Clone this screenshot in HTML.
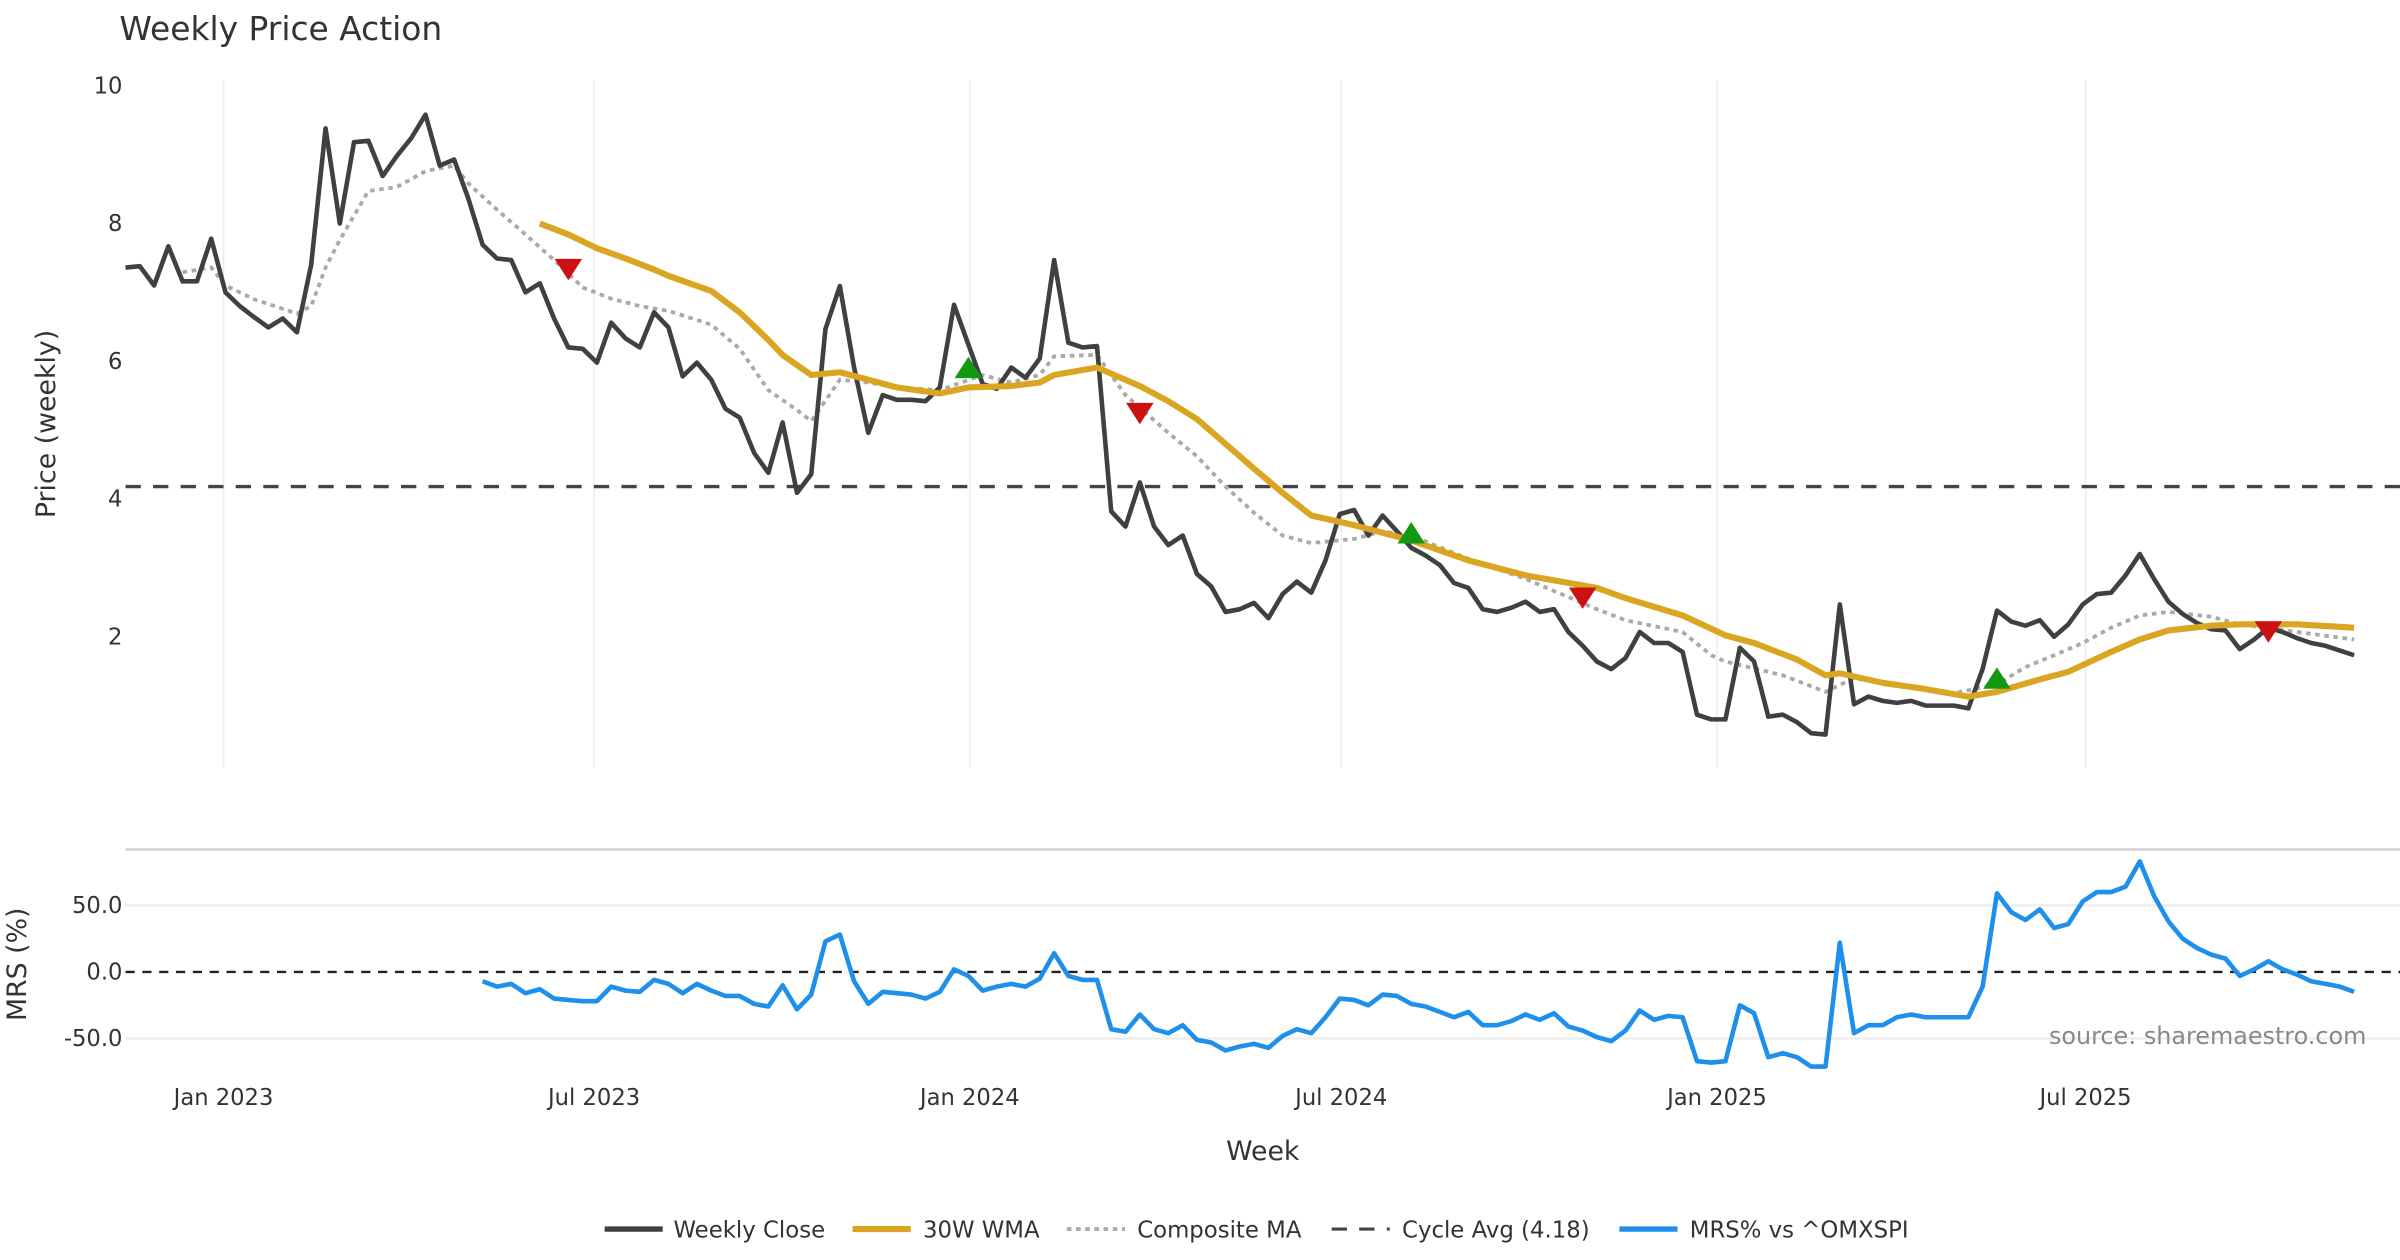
<!DOCTYPE html>
<html><head><meta charset="utf-8"><style>
html,body{margin:0;padding:0;background:#fff;}
svg{display:block;font-family:"DejaVu Sans","Liberation Sans",sans-serif;}
</style></head><body>
<svg id="chart" width="2400" height="1260" viewBox="0 0 1568 823.2" xmlns="http://www.w3.org/2000/svg">
<text x="78" y="26" font-size="21.5" fill="#333">Weekly Price Action</text>
<g id="grid"></g>
<g id="axes"></g>
<g id="series"></g>
<text transform="translate(36,277) rotate(-90)" text-anchor="middle" font-size="17.5" fill="#333">Price (weekly)</text>
<text transform="translate(17,630) rotate(-90)" text-anchor="middle" font-size="17.5" fill="#333">MRS (%)</text>
<text x="825" y="758" text-anchor="middle" font-size="17.5" fill="#333">Week</text>
<text x="1546" y="682" text-anchor="end" font-size="15.6" fill="#888">source: sharemaestro.com</text>
<g font-size="14.9" fill="#333">
 <line x1="395" y1="803" x2="433" y2="803" stroke="#404040" stroke-width="3.5"/><text x="440" y="808.5">Weekly Close</text>
 <line x1="557" y1="803" x2="595" y2="803" stroke="#DAA520" stroke-width="4"/><text x="603" y="808.5">30W WMA</text>
 <line x1="697" y1="803" x2="735" y2="803" stroke="#aaa" stroke-width="2.5" stroke-dasharray="3,3"/><text x="743" y="808.5">Composite MA</text>
 <line x1="870" y1="803" x2="908" y2="803" stroke="#444" stroke-width="2" stroke-dasharray="10,8"/><text x="916" y="808.5">Cycle Avg (4.18)</text>
 <line x1="1058" y1="803" x2="1096" y2="803" stroke="#1E8FEA" stroke-width="3.5"/><text x="1104" y="808.5">MRS% vs ^OMXSPI</text>
</g>
</svg>
<script>
const closeVals=[7.36,7.38,7.1,7.67,7.16,7.16,7.78,7.0,6.8,6.64,6.49,6.62,6.42,7.4,9.38,8.0,9.18,9.2,8.69,8.98,9.24,9.58,8.84,8.93,8.36,7.69,7.49,7.47,7.0,7.13,6.62,6.2,6.18,5.98,6.56,6.33,6.2,6.71,6.49,5.78,5.98,5.73,5.31,5.18,4.67,4.38,5.11,4.09,4.36,6.47,7.09,5.91,4.96,5.51,5.44,5.44,5.42,5.62,6.82,6.24,5.67,5.6,5.91,5.76,6.04,7.47,6.27,6.2,6.22,3.82,3.6,4.24,3.6,3.33,3.47,2.91,2.73,2.36,2.4,2.49,2.27,2.62,2.8,2.64,3.11,3.78,3.84,3.47,3.76,3.53,3.29,3.18,3.04,2.78,2.71,2.4,2.36,2.42,2.51,2.36,2.4,2.07,1.87,1.64,1.53,1.69,2.07,1.91,1.91,1.78,0.87,0.8,0.8,1.84,1.64,0.84,0.87,0.76,0.6,0.58,2.47,1.02,1.13,1.07,1.04,1.07,1.0,1.0,1.0,0.96,1.53,2.38,2.22,2.16,2.24,2.0,2.18,2.47,2.62,2.64,2.89,3.2,2.84,2.51,2.33,2.2,2.11,2.09,1.82,1.96,2.13,2.07,1.98,1.91,1.87,1.8,1.73];
const wmaWeeks=[29,31,33,35,37,38,41,43,45,46,48,49,50,52,54,57,59,62,64,65,68,71,73,75,77,79,81,83,86,88,90,94,98,103,105,109,112,114,117,119,120,123,126,129,131,134,136,139,141,143,146,148,152,156];
const wmaVals=[8.0,7.84,7.64,7.49,7.33,7.24,7.02,6.71,6.31,6.09,5.8,5.82,5.84,5.73,5.62,5.53,5.62,5.64,5.69,5.8,5.91,5.64,5.42,5.16,4.8,4.44,4.09,3.76,3.62,3.51,3.4,3.11,2.89,2.71,2.56,2.31,2.02,1.91,1.67,1.44,1.47,1.33,1.24,1.13,1.2,1.38,1.49,1.78,1.96,2.09,2.16,2.18,2.18,2.13];
const compWeeks=[4,6,7,9,12,13,14,15,17,19,21,23,24,26,28,30,32,34,36,38,41,43,45,47,48,50,52,54,57,60,62,64,65,68,70,73,75,77,79,81,83,86,88,90,94,98,103,105,109,111,112,116,119,121,124,128,131,133,135,137,139,141,143,146,148,152,156];
const compVals=[7.29,7.36,7.1,6.9,6.69,6.8,7.36,7.76,8.47,8.53,8.76,8.84,8.58,8.2,7.84,7.47,7.07,6.91,6.8,6.73,6.53,6.18,5.58,5.29,5.13,5.73,5.69,5.62,5.58,5.8,5.69,5.8,6.07,6.09,5.51,4.96,4.62,4.18,3.8,3.47,3.36,3.42,3.53,3.47,3.13,2.84,2.4,2.24,2.07,1.73,1.64,1.44,1.2,1.4,1.29,1.18,1.31,1.56,1.73,1.91,2.13,2.31,2.36,2.29,2.18,2.07,1.96];
const cycleAvg=4.18;
const sellWeeks=[31,71,102,150], sellVals=[7.33,5.24,2.56,2.07];
const buyWeeks=[59,90,131], buyVals=[5.91,3.51,1.4];
const mrsStartWeek=25;
const mrsVals=[-7,-11,-9,-16,-13,-20,-21,-22,-22,-11,-14,-15,-6,-9,-16,-9,-14,-18,-18,-24,-26,-10,-28,-17,23,28,-7,-24,-15,-16,-17,-20,-15,2,-3,-14,-11,-9,-11,-5,14,-3,-6,-6,-43,-45,-32,-43,-46,-40,-51,-53,-59,-56,-54,-57,-48,-43,-46,-34,-20,-21,-25,-17,-18,-24,-26,-30,-34,-30,-40,-40,-37,-32,-36,-31,-41,-44,-49,-52,-44,-29,-36,-33,-34,-67,-68,-67,-25,-31,-64,-61,-64,-71,-71,22,-46,-40,-40,-34,-32,-34,-34,-34,-34,-11,59,45,39,47,33,36,53,60,60,64,83,57,38,25,18,13,10,-3,2,8,2,-2,-7,-9,-11,-15];
const priceTicks=[2,4,6,8,10];
const mrsTicks=[-50,0,50];
const dateTickWeeks=[6.86,32.8,59.1,85.1,111.4,137.2];
const dateTickLabels=["Jan 2023","Jul 2023","Jan 2024","Jul 2024","Jan 2025","Jul 2025"];

const NS="http://www.w3.org/2000/svg";
const X0=82, X1=1538, N=closeVals.length;
const xs=w=>X0+w*(X1-X0)/(N-1);
const yp=v=>506-45*v;
const ym=v=>635-0.87*v;
function mk(parent,tag,attrs){const e=document.createElementNS(NS,tag);for(const k in attrs)e.setAttribute(k,attrs[k]);document.getElementById(parent).appendChild(e);return e;}
function path(pts){return pts.map((p,i)=>(i?'L':'M')+p[0].toFixed(1)+','+p[1].toFixed(1)).join(' ');}

dateTickWeeks.forEach((w,i)=>{
  const g=mk('grid','line',{x1:xs(w),x2:xs(w),y1:52,y2:502,stroke:'#ececec','stroke-width':1});
  
  
  const t=mk('axes','text',{x:xs(w),y:722,'text-anchor':'middle','font-size':14.8,fill:'#333'});
  t.textContent=dateTickLabels[i];
  
  
});
priceTicks.forEach(v=>{
  const t=mk('axes','text',{x:80,y:yp(v)+5,'text-anchor':'end','font-size':14.8,fill:'#333'});
  t.textContent=v;
  
  
});
mrsTicks.forEach(v=>{
  if(v!==0){const g=mk('grid','line',{x1:82,x2:1568,y1:ym(v),y2:ym(v),stroke:'#ececec','stroke-width':1.5});
  
  }
  const t=mk('axes','text',{x:80,y:ym(v)+5,'text-anchor':'end','font-size':14.8,fill:'#333'});
  t.textContent=v.toFixed(1);
  
  
});
const sep=mk('grid','line',{x1:82,x2:1568,y1:555,y2:555,stroke:'#ccc','stroke-width':1.5});


const z=mk('grid','line',{x1:82,x2:1568,y1:ym(0),y2:ym(0),stroke:'#222','stroke-width':1.5,'stroke-dasharray':'6,5'});



const cy=mk('series','line',{x1:82,x2:1568,y1:yp(cycleAvg),y2:yp(cycleAvg),stroke:'#444','stroke-width':2.2,'stroke-dasharray':'10,8'});


const cp=mk('series','path',{d:path(compWeeks.map((w,i)=>[xs(w),yp(compVals[i])])),fill:'none',stroke:'#aaa','stroke-width':2.5,'stroke-dasharray':'3,3'});


const cl=mk('series','path',{d:path(closeVals.map((v,i)=>[xs(i),yp(v)])),fill:'none',stroke:'#404040','stroke-width':3,'stroke-linejoin':'round'});


const wm=mk('series','path',{d:path(wmaWeeks.map((w,i)=>[xs(w),yp(wmaVals[i])])),fill:'none',stroke:'#DAA520','stroke-width':4,'stroke-linejoin':'round'});


sellWeeks.forEach((w,i)=>{const x=xs(w),y=yp(sellVals[i]);
  const m=mk('series','path',{d:`M${x-9},${y-7}L${x+9},${y-7}L${x},${y+7}Z`,fill:'#CC1111'});
  
  });
buyWeeks.forEach((w,i)=>{const x=xs(w),y=yp(buyVals[i]);
  const m=mk('series','path',{d:`M${x-9},${y+7}L${x+9},${y+7}L${x},${y-7}Z`,fill:'#119911'});
  
  });
const mr=mk('series','path',{d:path(mrsVals.map((v,i)=>[xs(mrsStartWeek+i),ym(v)])),fill:'none',stroke:'#1E8FEA','stroke-width':3,'stroke-linejoin':'round'});


</script>
</body></html>
